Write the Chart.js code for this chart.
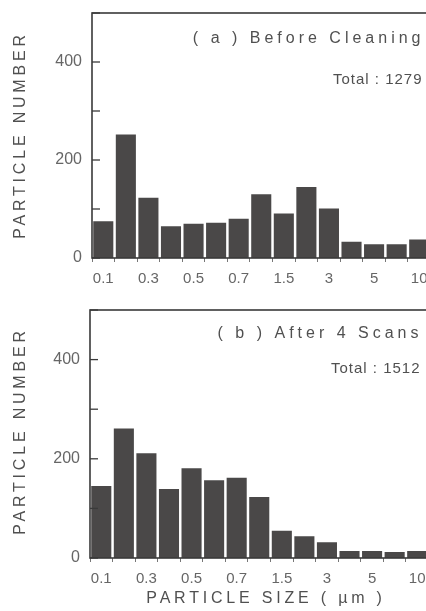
<!DOCTYPE html>
<html>
<head>
<meta charset="utf-8">
<script src="https://cdn.jsdelivr.net/npm/chart.js@4.4.1/dist/chart.umd.min.js"></script>
<style>
  body { margin: 0; background: #fff; overflow: hidden; width: 426px; height: 611px; }
  canvas { display: block; }
</style>
</head>
<body>
<canvas id="chartA" width="450" height="300"></canvas>
<canvas id="chartB" width="450" height="311"></canvas>
<script>
// particle size classes (um), only every other one is labelled
const sizes = ['0.1', '0.2', '0.3', '0.4', '0.5', '0.6', '0.7', '1', '1.5', '2', '3', '4', '5', '7', '10'];
const beforeCleaning = [75, 252, 123, 65, 70, 72, 80, 130, 91, 145, 101, 33, 28, 28, 38];
const after4Scans = [145, 261, 211, 139, 181, 157, 162, 123, 55, 44, 32, 14, 14, 12, 14];
const yTicks = [0, 200, 400];

const FONT = '"Liberation Sans", Arial, sans-serif';
const barColor = '#4a4848';
const lineColor = '#3a3a3a';
const textColor = '#505050';

// frame, inward y ticks and the spaced-out labels
const panelPlugin = {
  id: 'panel',
  afterDraw(chart, args, opts) {
    const ctx = chart.ctx;
    const area = chart.chartArea;
    const y = chart.scales.y;
    ctx.save();
    ctx.strokeStyle = lineColor;
    ctx.lineWidth = 1.6;
    ctx.strokeRect(area.left, area.top, area.right - area.left, area.bottom - area.top);
    ctx.lineWidth = 1.3;
    y.ticks.forEach(t => {
      const py = y.getPixelForValue(t.value);
      ctx.beginPath();
      ctx.moveTo(area.left, py);
      ctx.lineTo(area.left + 8, py);
      ctx.stroke();
    });

    ctx.fillStyle = textColor;
    ctx.textBaseline = 'middle';
    ctx.textAlign = 'right';
    ctx.font = '16px ' + FONT;
    ctx.letterSpacing = '4px';
    ctx.fillText(opts.title, area.right - 6, area.top + opts.titleDy);
    ctx.font = '15px ' + FONT;
    ctx.letterSpacing = '1px';
    ctx.fillText(opts.total, area.right - 8, area.top + opts.totalDy);

    // y title
    ctx.save();
    ctx.translate(21, opts.yTitleY);
    ctx.rotate(-Math.PI / 2);
    ctx.textAlign = 'center';
    ctx.font = '16px ' + FONT;
    ctx.letterSpacing = '3.8px';
    ctx.fillText('PARTICLE NUMBER', 0, 0);
    ctx.restore();

    if (opts.xTitle) {
      ctx.textAlign = 'center';
      ctx.font = '16px ' + FONT;
      ctx.letterSpacing = '3.8px';
      ctx.fillText(opts.xTitle, 266, area.bottom + 41);
    }
    ctx.restore();
  }
};

function makeChart(id, values, cfg) {
  return new Chart(document.getElementById(id), {
    type: 'bar',
    data: {
      labels: sizes,
      datasets: [{
        data: values,
        backgroundColor: barColor,
        borderWidth: 0,
        barPercentage: 0.89,
        categoryPercentage: 1
      }]
    },
    options: {
      responsive: false,
      animation: false,
      layout: { padding: { top: cfg.top, right: cfg.right, left: 0, bottom: 0 } },
      plugins: {
        legend: { display: false },
        tooltip: { enabled: false },
        panel: cfg.panel
      },
      scales: {
        x: {
          grid: { drawOnChartArea: false, offset: true, tickLength: 4, color: '#777', lineWidth: 1 },
          border: { display: false },
          ticks: {
            autoSkip: false,
            maxRotation: 0,
            padding: 8,
            color: '#666',
            font: { family: FONT, size: 15 },
            callback: (v, i) => (i % 2 === 0 ? sizes[i] : '')
          },
          afterFit: s => { s.height = cfg.xHeight; s.paddingLeft = 0; s.paddingRight = 0; }
        },
        y: {
          min: 0,
          max: 500,
          grid: { display: false, drawTicks: false },
          border: { display: false },
          ticks: {
            stepSize: 100,
            padding: 10,
            color: '#666',
            font: { family: FONT, size: 16 },
            callback: v => (yTicks.includes(v) ? v : '')
          },
          afterFit: s => { s.width = cfg.left; s.paddingTop = 0; s.paddingBottom = 0; }
        }
      }
    },
    plugins: [panelPlugin]
  });
}

makeChart('chartA', beforeCleaning, {
  top: 13, right: 19.5, left: 92, xHeight: 42,
  panel: { title: '( a ) Before Cleaning', total: 'Total : 1279', yTitleY: 135, titleDy: 26, totalDy: 67 }
});
makeChart('chartB', after4Scans, {
  top: 10, right: 21.5, left: 90, xHeight: 53,
  panel: { title: '( b ) After 4 Scans', total: 'Total : 1512', yTitleY: 131, titleDy: 24, totalDy: 59,
           xTitle: 'PARTICLE SIZE ( \u00b5m )' }
});
</script>
</body>
</html>
